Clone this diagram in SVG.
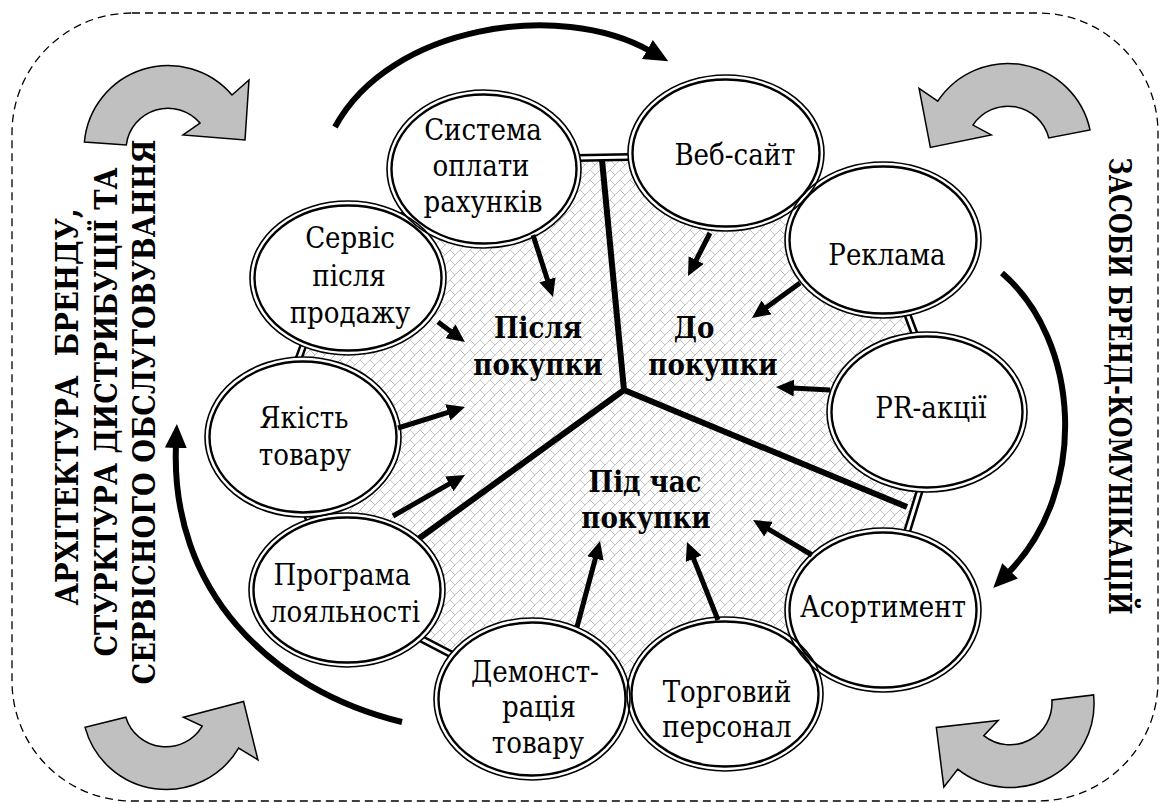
<svg xmlns="http://www.w3.org/2000/svg" width="1161" height="803" viewBox="0 0 1161 803">
<defs>
<style>
.no{fill:none;stroke:#000;stroke-width:1.6}
.ni{fill:none;stroke:#000;stroke-width:2.4}
text{font-family:'DejaVu Serif Condensed','DejaVu Serif',serif;font-stretch:condensed;fill:#000;text-anchor:middle}
.nt{font-size:29px}
.rl{font-size:29px;font-weight:bold}
.side{font-size:31px;font-weight:bold}
.arr{fill:none;stroke:#000;stroke-width:5;marker-end:url(#ah)}
.big{fill:none;stroke:#000;stroke-width:6;marker-end:url(#ahb)}
.dv{fill:none;stroke:#000;stroke-width:6}
.ga{fill:#c0c0c0;stroke:#000;stroke-width:1.5}
</style>
<marker id="ah" viewBox="0 0 18 17" refX="2" refY="8.5" markerWidth="18" markerHeight="17" markerUnits="userSpaceOnUse" orient="auto"><path d="M0,0 L18,8.5 L0,17 Z" fill="#000"/></marker>
<marker id="ahb" viewBox="0 0 24 22" refX="3" refY="11" markerWidth="24" markerHeight="22" markerUnits="userSpaceOnUse" orient="auto"><path d="M0,0 L24,11 L0,22 Z" fill="#000"/></marker>
<pattern id="hatch" width="10" height="10" patternUnits="userSpaceOnUse"><path d="M-1,11 L11,-1 M0,0 L5,5" stroke="#c4c4c4" stroke-width="1" fill="none"/></pattern>
<path id="garrow" class="ga" d="M-83.6,-8 A84,84 0 0 1 64,-55 L81,-70 L77,-10 L15,-15 L32,-27 A42,42 0 0 0 -41.7,-5 Z"/>
<mask id="holes" maskUnits="userSpaceOnUse" x="0" y="0" width="1161" height="803">
<rect x="0" y="0" width="1161" height="803" fill="#fff"/>
<g fill="#000">
<ellipse cx="484" cy="169" rx="97" ry="79"/>
<ellipse cx="726" cy="153" rx="98" ry="78"/>
<ellipse cx="883" cy="240" rx="98" ry="78"/>
<ellipse cx="927" cy="412" rx="100" ry="80"/>
<ellipse cx="883" cy="610" rx="98" ry="82"/>
<ellipse cx="725" cy="694" rx="98" ry="77"/>
<ellipse cx="532" cy="699" rx="98" ry="81"/>
<ellipse cx="347" cy="590" rx="98" ry="77"/>
<ellipse cx="303" cy="437" rx="98" ry="80"/>
<ellipse cx="348" cy="278" rx="98" ry="77"/>
</g>
</mask>
</defs>

<rect id="frame" x="12" y="13" width="1146" height="788" rx="120" ry="120" fill="none" stroke="#000" stroke-width="1.3" stroke-dasharray="8,5"/>

<g id="gray-arrows">
<use href="#garrow" transform="translate(168,150)"/>
<use href="#garrow" transform="translate(1008,148) rotate(-7) scale(-1,1)"/>
<use href="#garrow" transform="translate(166,705) rotate(-10) scale(1,-1)"/>
<use href="#garrow" transform="translate(1010,703) rotate(-11) scale(-1,-1)"/>
</g>

<g id="side-labels">
<text class="side" transform="translate(78,407) rotate(-90)" textLength="397" lengthAdjust="spacingAndGlyphs" xml:space="preserve">АРХІТЕКТУРА  БРЕНДУ,</text>
<text class="side" transform="translate(117,412) rotate(-90)" textLength="489" lengthAdjust="spacingAndGlyphs">СТУРКТУРА ДИСТРИБУЦІЇ ТА</text>
<text class="side" transform="translate(155,412) rotate(-90)" textLength="545" lengthAdjust="spacingAndGlyphs">СЕРВІСНОГО ОБСЛУГОВУВАННЯ</text>
<text class="side" transform="translate(1109,386) rotate(90)" textLength="457" lengthAdjust="spacingAndGlyphs">ЗАСОБИ БРЕНД-КОМУНІКАЦІЙ</text>
</g>

<g id="stages" mask="url(#holes)">
<polygon points="470,160 740,155 885,255 944,412 886,600 725,690 535,698 347,600 270,437 328,278" fill="url(#hatch)" stroke="#000" stroke-width="8" stroke-linejoin="round"/>
<polygon points="470,160 740,155 885,255 944,412 886,600 725,690 535,698 347,600 270,437 328,278" fill="none" stroke="#fff" stroke-width="3" stroke-linejoin="round"/>
<path class="dv" d="M624,390 L602,160 M624,390 L907,507 M624,390 L410,545"/>
</g>

<g id="stage-labels">
<text class="rl"><tspan x="538" y="338">Після</tspan><tspan x="538" y="375">покупки</tspan></text>
<text class="rl"><tspan x="694" y="338">До</tspan><tspan x="713" y="375">покупки</tspan></text>
<text class="rl"><tspan x="645" y="492">Під час</tspan><tspan x="646" y="528">покупки</tspan></text>
</g>

<g id="n-sys"><ellipse class="no" cx="484" cy="169" rx="97" ry="79"/><ellipse class="ni" cx="484" cy="169" rx="92.5" ry="74.5"/>
<text class="nt"><tspan x="483" y="140">Система</tspan><tspan x="481" y="176">оплати</tspan><tspan x="483" y="212">рахунків</tspan></text></g>
<g id="n-web"><ellipse class="no" cx="726" cy="153" rx="98" ry="78"/><ellipse class="ni" cx="726" cy="153" rx="93.5" ry="73.5"/>
<text class="nt" x="735" y="165">Веб-сайт</text></g>
<g id="n-rek"><ellipse class="no" cx="883" cy="240" rx="98" ry="78"/><ellipse class="ni" cx="883" cy="240" rx="93.5" ry="73.5"/>
<text class="nt" x="887" y="265">Реклама</text></g>
<g id="n-pr"><ellipse class="no" cx="927" cy="412" rx="100" ry="80"/><ellipse class="ni" cx="927" cy="412" rx="95.5" ry="75.5"/>
<text class="nt" x="931" y="418">PR-акції</text></g>
<g id="n-aso"><ellipse class="no" cx="883" cy="610" rx="98" ry="82"/><ellipse class="ni" cx="883" cy="610" rx="93.5" ry="77.5"/>
<text class="nt" x="883" y="617">Асортимент</text></g>
<g id="n-tor"><ellipse class="no" cx="725" cy="694" rx="98" ry="77"/><ellipse class="ni" cx="725" cy="694" rx="93.5" ry="72.5"/>
<text class="nt"><tspan x="727" y="702">Торговий</tspan><tspan x="727" y="737">персонал</tspan></text></g>
<g id="n-dem"><ellipse class="no" cx="532" cy="699" rx="98" ry="81"/><ellipse class="ni" cx="532" cy="699" rx="93.5" ry="76.5"/>
<text class="nt"><tspan x="535" y="682">Демонст-</tspan><tspan x="539" y="717">рація</tspan><tspan x="538" y="753">товару</tspan></text></g>
<g id="n-pro"><ellipse class="no" cx="347" cy="590" rx="98" ry="77"/><ellipse class="ni" cx="347" cy="590" rx="93.5" ry="72.5"/>
<text class="nt"><tspan x="342" y="585">Програма</tspan><tspan x="345" y="622">лояльності</tspan></text></g>
<g id="n-yak"><ellipse class="no" cx="303" cy="437" rx="98" ry="80"/><ellipse class="ni" cx="303" cy="437" rx="93.5" ry="75.5"/>
<text class="nt"><tspan x="304" y="428">Якість</tspan><tspan x="305" y="465">товару</tspan></text></g>
<g id="n-ser"><ellipse class="no" cx="348" cy="278" rx="98" ry="77"/><ellipse class="ni" cx="348" cy="278" rx="93.5" ry="72.5"/>
<text class="nt"><tspan x="350" y="248">Сервіс</tspan><tspan x="349" y="286">після</tspan><tspan x="350" y="323">продажу</tspan></text></g>

<g id="connectors">
<path class="arr" d="M533,235 L548.1,281.8"/>
<path class="arr" d="M710,233 L695.3,261.8"/>
<path class="arr" d="M800,283 L764.9,308.6"/>
<path class="arr" d="M830,390 L792,387.9"/>
<path class="arr" d="M812,555 L766.8,528.2"/>
<path class="arr" d="M718,620 L692.9,556.9"/>
<path class="arr" d="M577,627 L595.9,556.5"/>
<path class="arr" d="M393,516 L451.1,482.9"/>
<path class="arr" d="M398,428 L449.7,411.8"/>
<path class="arr" d="M438,322 L452.1,332.5"/>
<path class="big" d="M335,127 C390,25 560,0 650,51"/>
<path class="big" d="M1002,273 C1080,340 1090,490 1008,573"/>
<path class="big" d="M402,722 C270,690 170,590 176,445"/>
</g>
</svg>
